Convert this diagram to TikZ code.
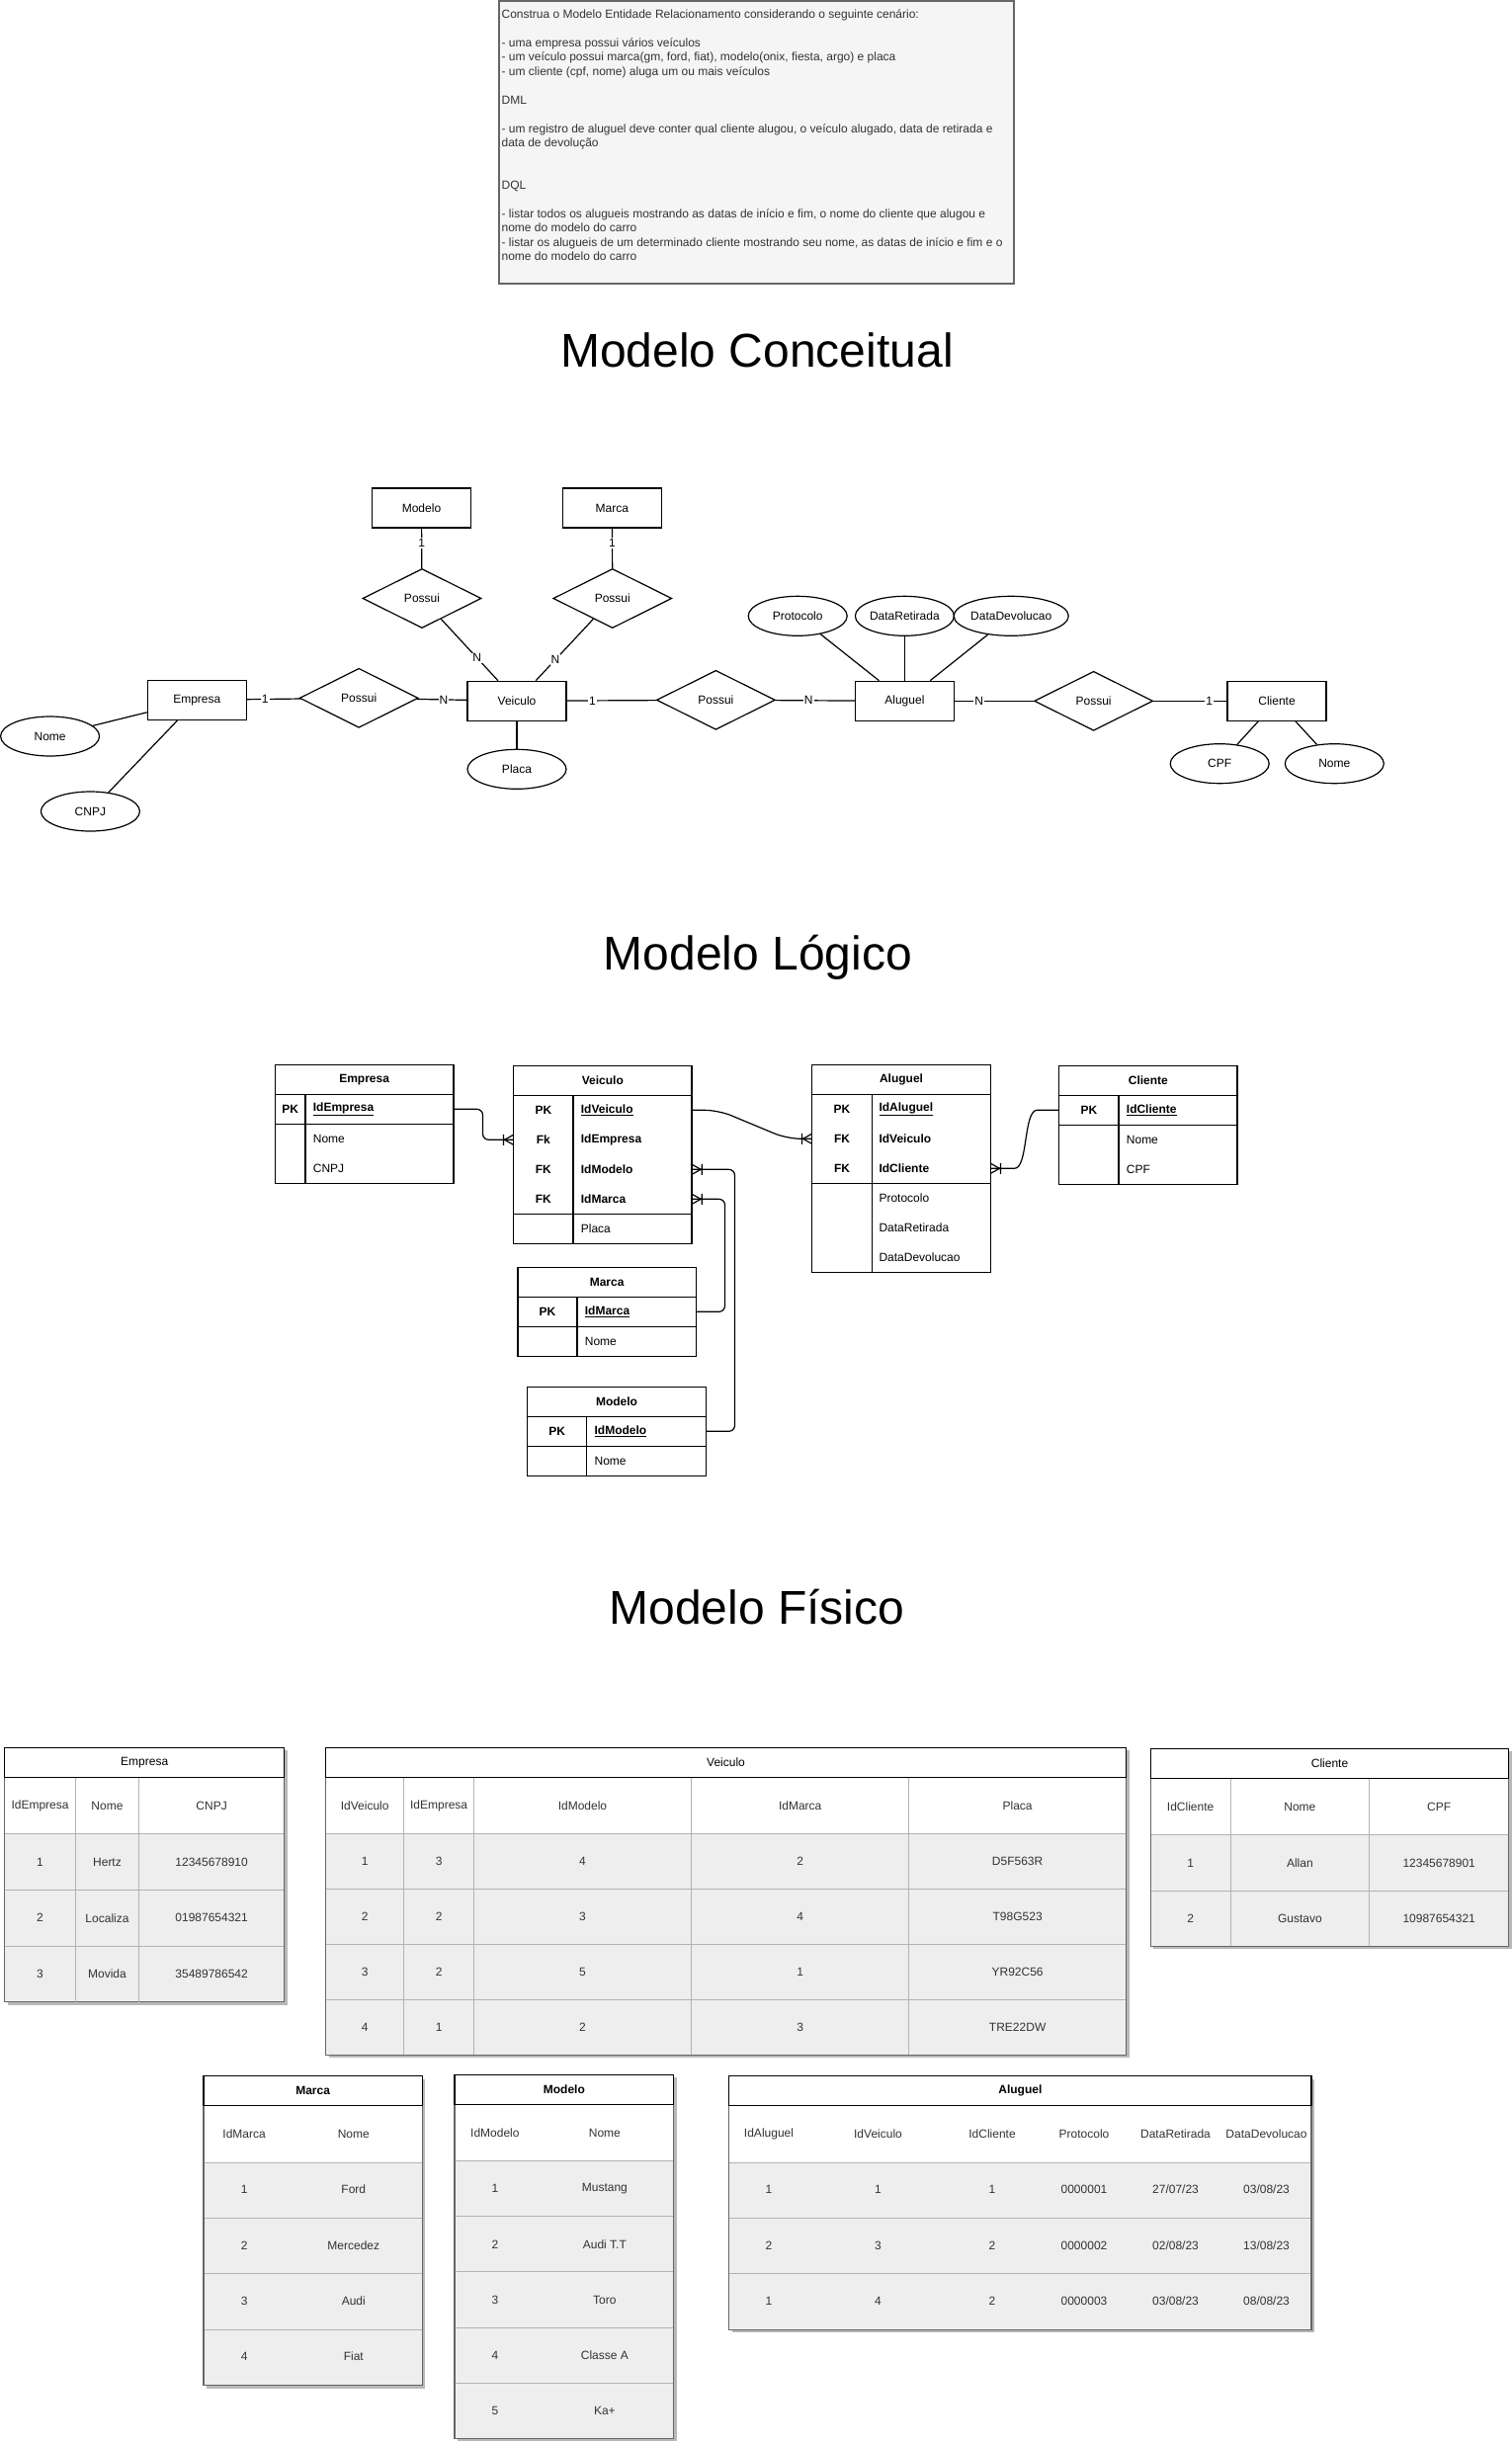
\documentclass[tikz,border=0pt]{standalone}
\usepackage{fontspec}
\setmainfont{Liberation Sans}
\usetikzlibrary{shapes.geometric}
\definecolor{boxfill}{HTML}{F5F5F5}
\definecolor{boxdraw}{HTML}{666666}
\definecolor{boxtext}{HTML}{333333}
\definecolor{rowfill}{HTML}{EEEEEE}
\definecolor{cellc}{HTML}{B3B3B3}
\definecolor{shadowc}{HTML}{B8B8B8}
\definecolor{outerc}{HTML}{666666}
\newcommand{\fsz}[1]{\fontsize{#1}{#1}\selectfont}
% physical table frame: x0, x1, y0, rows, row height
\newcommand{\ptable}[5]{%
  \pgfmathsetmacro{\pyb}{#3+87.4+#4*#5}%
  \fill[shadowc] ({#1+3},{#3+3}) rectangle ({#2+3},{\pyb+3});
  \fill[white] (#1,#3) rectangle (#2,{#3+87.4});
  \fill[rowfill] (#1,{#3+87.4}) rectangle (#2,\pyb);
  \foreach \k in {1,...,#4} {\draw[cellline] (#1,{#3+87.4+(\k-1)*#5}) -- (#2,{#3+87.4+(\k-1)*#5});}
  \draw[outerline] (#1,#3) rectangle (#2,\pyb);
  \draw[black, line width=1.2pt] (#1,#3) rectangle (#2,{#3+30});
}
% physical cells: name, y first, step, centers, rows
\newcommand{\pcells}[5]{%
  \foreach \rw [count=\ri] in {#5} {
    \foreach \cl [count=\ci] in \rw {
      \pgfmathsetmacro{\cxx}{{#4}[\ci-1]}
      \node[pcell] (#1-\ri-\ci) at (\cxx,{#2+(\ri-1)*#3}) {\cl};
    }
  }
}
% crow's foot (one-to-many): anchor, outward x direction
\newcommand{\crowft}[2]{%
  \begin{scope}[shift={(#1)}, xscale=#2]
    \draw[conn] (9,0) -- (0,-5) (9,0) -- (0,5) (10,-5.5) -- (10,5.5);
  \end{scope}}
\begin{document}
\begin{tikzpicture}[x=1pt,y=-1pt,
  conn/.style={line width=1.2pt, black},
  ent/.style={draw, line width=1.2pt, rectangle, minimum width=100pt, minimum height=40pt, inner sep=0pt, font=\fsz{12}},
  rel/.style={draw, line width=1.2pt, diamond, aspect=2, minimum width=120pt, minimum height=60pt, inner sep=0pt, font=\fsz{12}},
  attr/.style={draw, line width=1.2pt, ellipse, minimum width=100pt, minimum height=40pt, inner sep=0pt, font=\fsz{12}},
  card/.style={fill=white, inner sep=1pt, font=\fsz{12}},
  title/.style={anchor=base, font=\fsz{48}},
  txt/.style={anchor=base west, inner sep=0pt, font=\fsz{12}, text=boxtext},
  ltab/.style={line width=1.2pt, black},
  ltitle/.style={inner sep=0pt, font=\bfseries\fsz{12}},
  lkey/.style={inner sep=0pt, font=\bfseries\fsz{12}},
  lfield/.style={anchor=west, inner sep=0pt, font=\fsz{12}},
  lbfield/.style={anchor=west, inner sep=0pt, font=\bfseries\fsz{12}},
  rowbox/.style={minimum height=30pt, inner sep=0pt},
  pcell/.style={inner sep=0pt, font=\fsz{12}, text=boxtext},
  ptitle/.style={inner sep=0pt, font=\fsz{12}},
  pbtitle/.style={inner sep=0pt, font=\bfseries\fsz{12}},
  cellline/.style={cellc, line width=1pt},
  outerline/.style={outerc, line width=1.2pt}
]
\fill[white] (0,0) rectangle (1530,2473);
\useasboundingbox (0,0) rectangle (1530,2473);

% ---------------- statement box ----------------
\node[draw=boxdraw, fill=boxfill, line width=1.2pt, minimum width=521pt, minimum height=286pt, inner sep=0pt] (stmt) at (765.5,144) {};
\node[txt] (t1) at (507.4,18.8) {Construa o Modelo Entidade Relacionamento considerando o seguinte cenário:};
\node[txt] (t2) at (507.4,47.6) {- uma empresa possui vários veículos};
\node[txt] (t3) at (507.4,62) {- um veículo possui marca(gm, ford, fiat), modelo(onix, fiesta, argo) e placa};
\node[txt] (t4) at (507.4,76.4) {- um cliente (cpf, nome) aluga um ou mais veículos};
\node[txt] (t5) at (507.4,105.2) {DML};
\node[txt] (t6) at (507.4,134) {- um registro de aluguel deve conter qual cliente alugou, o veículo alugado, data de retirada e};
\node[txt] (t7) at (507.4,148.4) {data de devolução};
\node[txt] (t8) at (507.4,191.6) {DQL};
\node[txt] (t9) at (507.4,220.4) {- listar todos os alugueis mostrando as datas de início e fim, o nome do cliente que alugou e};
\node[txt] (t10) at (507.4,234.8) {nome do modelo do carro};
\node[txt] (t11) at (507.4,249.2) {- listar os alugueis de um determinado cliente mostrando seu nome, as datas de início e fim e o};
\node[txt] (t12) at (507.4,263.6) {nome do modelo do carro};

% ---------------- titles ----------------
\node[title] (tc) at (766,371) {Modelo Conceitual};
\node[title] (tl) at (767,981.7) {Modelo Lógico};
\node[title] (tf) at (766,1643.5) {Modelo Físico};

% ---------------- conceptual model ----------------
\node[ent] (cModelo) at (426.5,514) {Modelo};
\node[ent] (cMarca) at (619.4,514) {Marca};
\node[rel] (dModelo) at (427,605.5) {Possui};
\node[rel] (dMarca) at (619.8,605.5) {Possui};
\node[ent] (cEmpresa) at (199.3,708.3) {Empresa};
\node[rel] (dEmp) at (363.2,706.3) {Possui};
\node[ent] (cVeiculo) at (523,709.3) {Veiculo};
\node[attr] (aPlaca) at (523,778.3) {Placa};
\node[attr] (aNomeE) at (50.6,745) {Nome};
\node[attr] (aCNPJ) at (91.4,821) {CNPJ};
\node[rel] (dAlug) at (724.4,708.3) {Possui};
\node[ent] (cAluguel) at (915.4,709.3) {Aluguel};
\node[rel] (dCli) at (1106.6,709.3) {Possui};
\node[ent] (cCliente) at (1292,709.3) {Cliente};
\node[attr] (aCPF) at (1234.2,772.7) {CPF};
\node[attr] (aNomeC) at (1350.3,772.7) {Nome};
\node[attr] (aProt) at (807.2,623.3) {Protocolo};
\node[attr] (aRet) at (915.4,623.3) {DataRetirada};
\node[attr] (aDev) at (1023.2,623.3) {DataDevolucao};

\draw[conn] (cModelo) -- node[card,pos=0.37]{1} (dModelo);
\draw[conn] (cMarca) -- node[card,pos=0.37]{1} (dMarca);
\draw[conn] (dModelo) -- node[card,pos=0.63]{N} (cVeiculo);
\draw[conn] (dMarca) -- node[card,pos=0.66]{N} (cVeiculo);
\draw[conn] (cEmpresa) -- node[card,pos=0.34]{1} (dEmp);
\draw[conn] (dEmp) -- node[card,pos=0.54]{N} (cVeiculo);
\draw[conn] (cVeiculo) -- node[card,pos=0.285]{1} (dAlug);
\draw[conn] (dAlug) -- node[card,pos=0.42]{N} (cAluguel);
\draw[conn] (cAluguel) -- node[card,pos=0.31]{N} (dCli);
\draw[conn] (dCli) -- node[card,pos=0.76]{1} (cCliente);
\draw[conn] (cVeiculo) -- (aPlaca);
\draw[conn] (cEmpresa) -- (aNomeE);
\draw[conn] (cEmpresa) -- (aCNPJ);
\draw[conn] (aProt) -- (cAluguel);
\draw[conn] (aRet) -- (cAluguel);
\draw[conn] (aDev) -- (cAluguel);
\draw[conn] (cCliente) -- (aCPF);
\draw[conn] (cCliente) -- (aNomeC);

% ---------------- logical model ----------------
% Empresa
\draw[ltab] (278.3,1077.3) rectangle (459,1197.3);
\draw[ltab] (278.3,1107.3) -- (459,1107.3) (278.3,1137.3) -- (459,1137.3) (309,1107.3) -- (309,1197.3);
\node[ltitle] (le-t) at (368.65,1092.3) {Empresa};
\node[rowbox, minimum width=180.7pt] (le-r1) at (368.65,1122.3) {};
\node[lkey] (le-k1) at (293.65,1122.3) {PK};
\node[lbfield] (le-f1) at (316.7,1122.3) {\underline{IdEmpresa}};
\node[lfield] (le-f2) at (316.7,1152.3) {Nome};
\node[lfield] (le-f3) at (316.7,1182.3) {CNPJ};

% Veiculo
\draw[ltab] (519.7,1078.3) rectangle (700,1258.3);
\draw[ltab] (519.7,1108.3) -- (700,1108.3) (519.7,1228.3) -- (700,1228.3) (580,1108.3) -- (580,1258.3);
\node[ltitle] (lv-t) at (609.85,1093.3) {Veiculo};
\node[rowbox, minimum width=180.3pt] (lv-r1) at (609.85,1123.3) {};
\node[rowbox, minimum width=180.3pt] (lv-r2) at (609.85,1153.3) {};
\node[rowbox, minimum width=180.3pt] (lv-r3) at (609.85,1183.3) {};
\node[rowbox, minimum width=180.3pt] (lv-r4) at (609.85,1213.3) {};
\node[lkey] (lv-k1) at (549.85,1123.3) {PK};
\node[lkey] (lv-k2) at (549.85,1153.3) {Fk};
\node[lkey] (lv-k3) at (549.85,1183.3) {FK};
\node[lkey] (lv-k4) at (549.85,1213.3) {FK};
\node[lbfield] (lv-f1) at (587.7,1123.3) {\underline{IdVeiculo}};
\node[lbfield] (lv-f2) at (587.7,1153.3) {IdEmpresa};
\node[lbfield] (lv-f3) at (587.7,1183.3) {IdModelo};
\node[lbfield] (lv-f4) at (587.7,1213.3) {IdMarca};
\node[lfield] (lv-f5) at (587.7,1243.3) {Placa};

% Marca
\draw[ltab] (524,1282.3) rectangle (704.3,1372.3);
\draw[ltab] (524,1312.3) -- (704.3,1312.3) (524,1342.3) -- (704.3,1342.3) (584,1312.3) -- (584,1372.3);
\node[ltitle] (lm-t) at (614.15,1297.3) {Marca};
\node[rowbox, minimum width=180.3pt] (lm-r1) at (614.15,1327.3) {};
\node[lkey] (lm-k1) at (554,1327.3) {PK};
\node[lbfield] (lm-f1) at (591.7,1327.3) {\underline{IdMarca}};
\node[lfield] (lm-f2) at (591.7,1357.3) {Nome};

% Modelo
\draw[ltab] (533.7,1403.3) rectangle (714.3,1493.3);
\draw[ltab] (533.7,1433.3) -- (714.3,1433.3) (533.7,1463.3) -- (714.3,1463.3) (593.7,1433.3) -- (593.7,1493.3);
\node[ltitle] (lmo-t) at (624,1418.3) {Modelo};
\node[rowbox, minimum width=180.6pt] (lmo-r1) at (624,1448.3) {};
\node[lkey] (lmo-k1) at (563.7,1448.3) {PK};
\node[lbfield] (lmo-f1) at (601.4,1448.3) {\underline{IdModelo}};
\node[lfield] (lmo-f2) at (601.4,1478.3) {Nome};

% Aluguel
\draw[ltab] (821.7,1077.3) rectangle (1002.3,1287.3);
\draw[ltab] (821.7,1107.3) -- (1002.3,1107.3) (821.7,1197.3) -- (1002.3,1197.3) (882.3,1107.3) -- (882.3,1287.3);
\node[ltitle] (la-t) at (912,1092.3) {Aluguel};
\node[rowbox, minimum width=180.6pt] (la-r1) at (912,1122.3) {};
\node[rowbox, minimum width=180.6pt] (la-r2) at (912,1152.3) {};
\node[rowbox, minimum width=180.6pt] (la-r3) at (912,1182.3) {};
\node[lkey] (la-k1) at (852,1122.3) {PK};
\node[lkey] (la-k2) at (852,1152.3) {FK};
\node[lkey] (la-k3) at (852,1182.3) {FK};
\node[lbfield] (la-f1) at (889.3,1122.3) {\underline{IdAluguel}};
\node[lbfield] (la-f2) at (889.3,1152.3) {IdVeiculo};
\node[lbfield] (la-f3) at (889.3,1182.3) {IdCliente};
\node[lfield] (la-f4) at (889.3,1212.3) {Protocolo};
\node[lfield] (la-f5) at (889.3,1242.3) {DataRetirada};
\node[lfield] (la-f6) at (889.3,1272.3) {DataDevolucao};

% Cliente
\draw[ltab] (1071.7,1078.3) rectangle (1252,1198.3);
\draw[ltab] (1071.7,1108.3) -- (1252,1108.3) (1071.7,1138.3) -- (1252,1138.3) (1132,1108.3) -- (1132,1198.3);
\node[ltitle] (lc-t) at (1161.85,1093.3) {Cliente};
\node[rowbox, minimum width=180.3pt] (lc-r1) at (1161.85,1123.3) {};
\node[lkey] (lc-k1) at (1101.85,1123.3) {PK};
\node[lbfield] (lc-f1) at (1139.7,1123.3) {\underline{IdCliente}};
\node[lfield] (lc-f2) at (1139.7,1153.3) {Nome};
\node[lfield] (lc-f3) at (1139.7,1183.3) {CPF};

% relationships
\draw[conn, rounded corners=6pt] (le-r1.east) -- ++(29.3,0) |- (lv-r2.west);
\crowft{lv-r2.west}{-1}
\draw[conn, rounded corners=14pt] (lv-r1.east) -- ++(26.7,0) -- ([xshift=-25pt]la-r2.west) -- (la-r2.west);
\crowft{la-r2.west}{-1}
\draw[conn, rounded corners=6pt] (lm-r1.east) -- ++(29,0) |- (lv-r4.east);
\crowft{lv-r4.east}{1}
\draw[conn, rounded corners=6pt] (lmo-r1.east) -- ++(29,0) |- (lv-r3.east);
\crowft{lv-r3.east}{1}
\draw[conn] (lc-r1.west) -- ++(-22,0) .. controls +(-14,0) and +(14,0) .. ([xshift=24pt]la-r3.east) -- (la-r3.east);
\crowft{la-r3.east}{1}

% ---------------- physical model ----------------
% Empresa
\ptable{4.6}{287.8}{1768.3}{3}{56.67}
\draw[cellline] (76.5,1798.8) -- (76.5,\pyb) (140.5,1798.8) -- (140.5,\pyb);
\node[ptitle] (pe-t) at (146.2,1783.3) {Empresa};
\pcells{pe-h}{1827}{0}{40.55,108.5,214.15}{{IdEmpresa,Nome,CNPJ}}
\pcells{pe}{1884.05}{56.67}{40.55,108.5,214.15}{{1,Hertz,12345678910},{2,Localiza,01987654321},{3,Movida,35489786542}}

% Veiculo
\ptable{329.5}{1139.5}{1768.3}{4}{55.9}
\draw[cellline] (408.9,1798.8) -- (408.9,\pyb) (479.3,1798.8) -- (479.3,\pyb) (699.6,1798.8) -- (699.6,\pyb) (919.8,1798.8) -- (919.8,\pyb);
\node[ptitle] (pv-t) at (734.5,1783.3) {Veiculo};
\pcells{pv-h}{1827}{0}{369.2,444.1,589.45,809.7,1029.65}{{IdVeiculo,IdEmpresa,IdModelo,IdMarca,Placa}}
\pcells{pv}{1883.65}{55.9}{369.2,444.1,589.45,809.7,1029.65}{{1,3,4,2,D5F563R},{2,2,3,4,T98G523},{3,2,5,1,YR92C56},{4,1,2,3,TRE22DW}}

% Cliente
\ptable{1164.3}{1526.7}{1769.3}{2}{56.3}
\draw[cellline] (1245,1799.8) -- (1245,\pyb) (1385.7,1799.8) -- (1385.7,\pyb);
\node[ptitle] (pc-t) at (1345.5,1784.3) {Cliente};
\pcells{pc-h}{1828}{0}{1204.65,1315.35,1456.2}{{IdCliente,Nome,CPF}}
\pcells{pc}{1884.85}{56.3}{1204.65,1315.35,1456.2}{{1,Allan,12345678901},{2,Gustavo,10987654321}}

% Marca
\ptable{206}{427.3}{2100.7}{4}{56.35}
\node[pbtitle] (pma-t) at (316.65,2115.7) {Marca};
\pcells{pma-h}{2159.4}{0}{247.15,357.8}{{IdMarca,Nome}}
\pcells{pma}{2215.5}{56.35}{247.15,357.8}{{1,Ford},{2,Mercedez},{3,Audi},{4,Fiat}}

% Modelo
\ptable{460}{681.7}{2099.3}{5}{56.12}
\node[pbtitle] (pmo-t) at (570.85,2114.3) {Modelo};
\pcells{pmo-h}{2158}{0}{500.85,611.85}{{IdModelo,Nome}}
\pcells{pmo}{2214.76}{56.12}{500.85,611.85}{{1,Mustang},{2,Audi T.T},{3,Toro},{4,Classe A},{5,Ka+}}

% Aluguel
\ptable{737.7}{1327}{2100.7}{3}{56.43}
\node[pbtitle] (pa-t) at (1032.35,2115.7) {Aluguel};
\pcells{pa-h}{2159.4}{0}{778,888.5,1004,1097,1189.5,1281.5}{{IdAluguel,IdVeiculo,IdCliente,Protocolo,DataRetirada,DataDevolucao}}
\pcells{pa}{2215.6}{56.43}{778,888.5,1004,1097,1189.5,1281.5}{{1,1,1,0000001,27/07/23,03/08/23},{2,3,2,0000002,02/08/23,13/08/23},{1,4,2,0000003,03/08/23,08/08/23}}
\end{tikzpicture}
\end{document}
